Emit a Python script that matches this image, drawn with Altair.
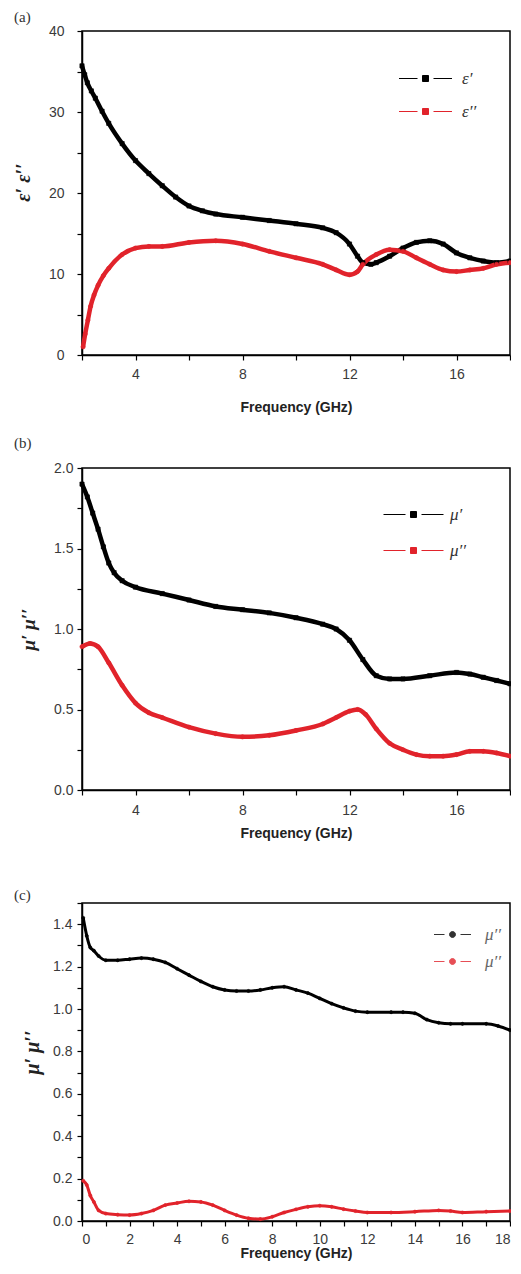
import altair as alt
import pandas as pd

# ---------------- panel (a): complex permittivity ----------------
a_series = ["ε′", "ε′′"]
a_freq_re = [2.0, 2.1, 2.2, 2.35, 2.5, 2.75, 3.0, 3.5, 4.0, 4.5, 5.0, 5.5, 6.0, 6.5, 7.0,
             8.0, 9.0, 10.0, 11.0, 11.5, 12.0, 12.3, 12.5, 12.8, 13.0, 13.5, 14.0,
             14.5, 15.0, 15.5, 16.0, 16.5, 17.0, 17.5, 18.0]
a_eps_re = [35.7, 34.6, 33.6, 32.6, 31.7, 30.1, 28.6, 26.1, 24.0, 22.4, 20.9, 19.5, 18.4, 17.8, 17.4,
            17.0, 16.6, 16.2, 15.7, 15.1, 13.7, 12.2, 11.4, 11.2, 11.4, 12.2, 13.2,
            13.9, 14.1, 13.7, 12.6, 12.0, 11.6, 11.4, 11.6]
a_freq_im = [2.04, 2.12, 2.22, 2.32, 2.45, 2.6, 2.8, 3.0, 3.5, 4.0, 4.5, 5.0, 6.0, 7.0, 8.0, 9.0,
             10.0, 11.0, 11.5, 12.0, 12.3, 12.5, 13.0, 13.5, 14.0, 14.5, 15.0, 15.5, 16.0,
             16.5, 17.0, 17.5, 18.0]
a_eps_im = [1.0, 2.6, 4.3, 6.0, 7.4, 8.6, 9.8, 10.7, 12.4, 13.2, 13.4, 13.4, 13.9, 14.1, 13.7, 12.8,
            12.0, 11.2, 10.5, 9.9, 10.3, 11.2, 12.4, 13.0, 12.8, 12.0, 11.2, 10.5, 10.3,
            10.5, 10.7, 11.2, 11.4]
a_xticks = [2, 4, 6, 8, 10, 12, 14, 16, 18]
a_xlabels = ["4", "8", "12", "16"]
a_yticks = [0, 5, 10, 15, 20, 25, 30, 35, 40]
a_ylabels = ["0", "10", "20", "30", "40"]

# ---------------- panel (b): complex permeability ----------------
b_series = ["μ′", "μ′′"]
b_freq_re = [2.0, 2.2, 2.4, 2.6, 2.8, 3.0, 3.2, 3.5, 4.0, 5.0, 6.0, 7.0, 8.0, 9.0, 10.0, 11.0,
             11.5, 12.0, 12.5, 13.0, 13.5, 14.0, 15.0, 16.0, 16.5, 17.0, 17.5, 18.0]
b_mu_re = [1.90, 1.82, 1.72, 1.62, 1.51, 1.41, 1.35, 1.30, 1.26, 1.22, 1.18, 1.14, 1.12, 1.10, 1.07, 1.03,
           1.00, 0.93, 0.81, 0.71, 0.69, 0.69, 0.71, 0.73, 0.72, 0.70, 0.68, 0.66]
b_freq_im = [2.0, 2.3, 2.6, 3.0, 3.5, 4.0, 4.5, 5.0, 6.0, 7.0, 8.0, 9.0, 10.0, 11.0, 11.5, 12.0,
             12.3, 12.6, 13.0, 13.5, 14.0, 14.5, 15.0, 15.5, 16.0, 16.5, 17.0, 17.5, 18.0]
b_mu_im = [0.89, 0.91, 0.89, 0.79, 0.65, 0.54, 0.48, 0.45, 0.39, 0.35, 0.33, 0.34, 0.37, 0.41, 0.45, 0.49,
           0.50, 0.47, 0.38, 0.29, 0.25, 0.22, 0.21, 0.21, 0.22, 0.24, 0.24, 0.23, 0.21]
b_xticks = [2, 4, 6, 8, 10, 12, 14, 16, 18]
b_xlabels = ["4", "8", "12", "16"]
b_yticks = [0, 0.25, 0.5, 0.75, 1.0, 1.25, 1.5, 1.75, 2.0]
b_ylabels = ["0.0", "0.5", "1.0", "1.5", "2.0"]

# ---------------- panel (c): complex permeability ----------------
c_series = ["μ′", "μ′′"]
c_legend_text = ["μ′′", "μ′′"]
c_freq_re = [0.05, 0.2, 0.35, 0.5, 0.7, 1.0, 1.5, 2.0, 2.5, 3.0, 3.5, 4.0, 4.5, 5.0, 5.5, 6.0, 6.5,
             7.0, 7.5, 8.0, 8.5, 9.0, 9.5, 10.0, 10.5, 11.0, 11.5, 12.0, 13.0, 13.5, 14.0, 14.5,
             15.0, 15.5, 16.0, 17.0, 17.5, 18.0]
c_mu_re = [1.43, 1.345, 1.29, 1.275, 1.25, 1.23, 1.23, 1.235, 1.24, 1.235, 1.22, 1.19, 1.16, 1.13, 1.105,
           1.09, 1.085, 1.085, 1.09, 1.10, 1.105, 1.09, 1.075, 1.05, 1.025, 1.005, 0.99, 0.985, 0.985,
           0.985, 0.98, 0.95, 0.935, 0.93, 0.93, 0.93, 0.92, 0.90]
c_freq_im = [0.05, 0.2, 0.35, 0.5, 0.7, 1.0, 1.5, 2.0, 2.5, 3.0, 3.5, 4.0, 4.5, 5.0, 5.5, 6.0, 6.5,
             7.0, 7.5, 8.0, 8.5, 9.0, 9.5, 10.0, 10.5, 11.0, 11.5, 12.0, 13.0, 14.0, 15.0, 15.5,
             16.0, 17.0, 18.0]
c_mu_im = [0.19, 0.17, 0.12, 0.09, 0.05, 0.035, 0.03, 0.028, 0.035, 0.05, 0.075, 0.085, 0.093, 0.09,
           0.075, 0.05, 0.028, 0.013, 0.009, 0.02, 0.04, 0.055, 0.067, 0.072, 0.067, 0.056, 0.047,
           0.04, 0.04, 0.044, 0.05, 0.047, 0.04, 0.044, 0.047]
c_xticks = list(range(0, 19))
c_xlabels = [str(v) for v in range(0, 19, 2)]
c_yticks = [0.0, 0.1, 0.2, 0.3, 0.4, 0.5, 0.6, 0.7, 0.8, 0.9, 1.0, 1.1, 1.2, 1.3, 1.4, 1.5]
c_ylabels = ["0.0", "0.2", "0.4", "0.6", "0.8", "1.0", "1.2", "1.4"]

BLACK = "#000000"
RED = "#e1232b"
SANS = "Liberation Sans"
SERIF = "Liberation Serif"
PLOT_W = 428
LEG_S = 16  # legend symbol box (px)


def table(f1, v1, f2, v2, series):
    d1 = pd.DataFrame({"f": f1, "v": v1, "s": series[0]})
    d2 = pd.DataFrame({"f": f2, "v": v2, "s": series[1]})
    df = pd.concat([d1, d2], ignore_index=True)
    df["k"] = df["s"]  # copy used only for the marker shape
    return df


def legend_path(w, shape):
    u = LEG_S / 2.0          # px per path unit
    e = (w / 2.0) / u        # half line length
    s = 3.0 / u              # marker half size
    g = 8.0 / u              # gap around marker
    line = f"M{-e:.3f},0L{-g:.3f},0M{g:.3f},0L{e:.3f},0"
    if shape == "square":
        mk = f"M{-s:.3f},{-s:.3f}L{s:.3f},{-s:.3f}L{s:.3f},{s:.3f}L{-s:.3f},{s:.3f}Z"
    else:
        mk = f"M{-s:.3f},0A{s:.3f},{s:.3f} 0 1,0 {s:.3f},0A{s:.3f},{s:.3f} 0 1,0 {-s:.3f},0Z"
    return line + mk


def label_expr(labels):
    arr = ",".join(f"'{l}'" for l in labels)
    return f"indexof([{arr}], datum.label) >= 0 ? datum.label : ''"


def panel(df, series, p):
    xaxis = alt.Axis(values=p["xticks"], labelExpr=label_expr(p["xlabels"]), format="d",
                     labelPadding=p["xlabpad"], labelFlush=True,
                     title="Frequency (GHz)", titlePadding=p["xtitlepad"])
    yaxis = alt.Axis(values=p["yticks"], labelExpr=label_expr(p["ylabels"]), format=p["yfmt"],
                     labelPadding=p["ylabpad"], labelFlush=False, title=p["ytitle"],
                     titleFont=SERIF, titleFontStyle="italic", titleFontWeight="bold",
                     titleFontSize=p["ytitlesize"], titleX=p["ytx"], titleY=p["yty"],
                     titleBaseline="middle", titleAlign="center", titleAngle=270)
    legend_args = dict(title=None, orient="none", legendX=p["lx"], legendY=p["ly"],
                       symbolType=legend_path(p["lw"], p["lshape"]), symbolSize=LEG_S ** 2,
                       symbolStrokeWidth=1, labelFont=SERIF, labelFontStyle="italic",
                       labelFontSize=17, labelColor=p["lcolor"], rowPadding=p["lrow"],
                       padding=0, labelOffset=p["loff"], symbolOpacity=p["lopacity"])
    if "ltext" in p:
        legend_args["labelExpr"] = "datum.label == '%s' ? '%s' : '%s'" % (
            series[0], p["ltext"][0], p["ltext"][1])
    leg = alt.Legend(**legend_args)
    cscale = alt.Scale(domain=series, range=[BLACK, RED])
    x = alt.X("f:Q", scale=alt.Scale(domain=p["xdom"], nice=False, zero=False), axis=xaxis)
    y = alt.Y("v:Q", scale=alt.Scale(domain=p["ydom"], nice=False), axis=yaxis)
    base = alt.Chart(df)
    lines = base.mark_line(strokeWidth=p["lwidth"], interpolate="monotone").encode(
        x=x, y=y, stroke=alt.Stroke("s:N", scale=cscale, legend=leg))
    pts = base.mark_point(filled=True, size=p["psize"], strokeWidth=0.6, opacity=1).encode(
        x=x, y=y,
        fill=alt.Fill("s:N", scale=cscale, legend=leg),
        stroke=alt.Stroke("s:N", scale=cscale, legend=leg),
        shape=alt.Shape("k:N", scale=alt.Scale(range=p["shapes"]), legend=None))
    return alt.layer(lines, pts).properties(
        width=PLOT_W, height=p["h"],
        title=alt.TitleParams(p["label"], anchor="start", frame="group", dx=-68,
                              offset=p["toff"], font=SERIF, fontSize=15,
                              fontWeight="normal", color="#333333"))


pa = panel(table(a_freq_re, a_eps_re, a_freq_im, a_eps_im, a_series), a_series, dict(
    xticks=a_xticks, xlabels=a_xlabels, xdom=[2, 18], xlabpad=7, xtitlepad=19,
    yticks=a_yticks, ylabels=a_ylabels, ydom=[0, 40], yfmt="d", ylabpad=13,
    ytitle="ε′ ε′′", ytitlesize=20, ytx=-59, yty=151,
    h=324, label="(a)", toff=-1, lx=335, ly=39, lw=53, lshape="square", lrow=15, loff=28,
    lcolor="#333333", lopacity=1, lwidth=4.5, psize=18, shapes=["square", "circle"]))

pb = panel(table(b_freq_re, b_mu_re, b_freq_im, b_mu_im, b_series), b_series, dict(
    xticks=b_xticks, xlabels=b_xlabels, xdom=[2, 18], xlabpad=8, xtitlepad=9,
    yticks=b_yticks, ylabels=b_ylabels, ydom=[0, 2], yfmt=".1f", ylabpad=4,
    ytitle="μ′ μ′′", ytitlesize=19, ytx=-54, yty=161,
    h=322, label="(b)", toff=10, lx=323, ly=38, lw=60, lshape="square", lrow=18, loff=28,
    lcolor="#333333", lopacity=1, lwidth=4.5, psize=18, shapes=["square", "circle"]))

pc = panel(table(c_freq_re, c_mu_re, c_freq_im, c_mu_im, c_series), c_series, dict(
    xticks=c_xticks, xlabels=c_xlabels, xdom=[0, 18], xlabpad=6, xtitlepad=0,
    yticks=c_yticks, ylabels=c_ylabels, ydom=[0, 1.5], yfmt=".1f", ylabpad=5,
    ytitle="μ′ μ′′", ytitlesize=20, ytx=-50, yty=149,
    h=318, label="(c)", toff=-1, lx=362, ly=23, lw=37, lshape="circle", lrow=9, loff=24,
    lcolor="#666666", lopacity=0.8, lwidth=3, psize=10, shapes=["circle", "circle"],
    ltext=c_legend_text))

chart = alt.vconcat(pa, pb, pc, spacing=113, bounds="flush").resolve_scale(
    fill="independent", stroke="independent", shape="independent"
).resolve_legend(
    fill="independent", stroke="independent", shape="independent"
).properties(
    padding={"left": 4, "top": 1, "right": -9, "bottom": 0}
).configure_view(
    stroke="black", strokeWidth=1.5
).configure_axis(
    domainColor="black", domainWidth=1.5, tickColor="black", tickWidth=1.2, tickSize=5,
    labelFont=SANS, labelFontSize=14, labelColor="#3a3a3a",
    titleFont=SANS, titleFontSize=14, titleFontWeight="bold", titleColor="#222222", grid=False
)

chart.save("out.html", embed_options={"renderer": "svg", "actions": False})
